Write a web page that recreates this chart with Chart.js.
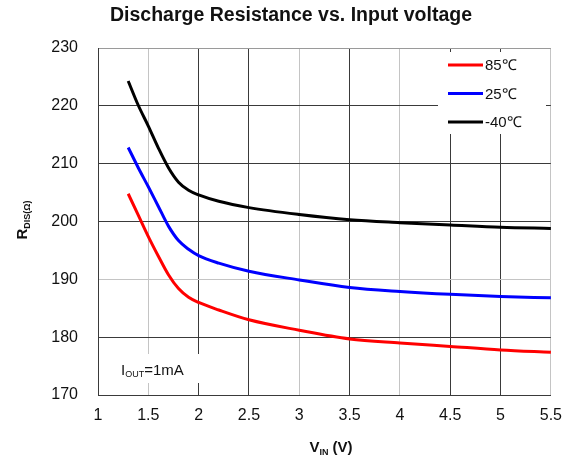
<!DOCTYPE html>
<html lang="en">
<head>
<meta charset="UTF-8">
<title>Discharge Resistance vs. Input voltage</title>
<script src="https://cdn.jsdelivr.net/npm/chart.js"></script>
<style>
  body { margin: 0; background: #fff; }
  #chart-wrap { width: 573px; height: 461px; }
</style>
</head>
<body>
<div id="chart-wrap"><canvas id="rdis-chart" width="573" height="461"></canvas></div>
<script>
// values
const vin  = [1.3, 1.4, 1.5, 1.6, 1.7, 1.8, 1.9, 2.0, 2.2, 2.5, 3.0, 3.5, 4.0, 4.5, 5.0, 5.5];
const r85  = [204.8, 201.1, 197.4, 194.0, 190.8, 188.4, 186.9, 186.0, 184.7, 183.0, 181.2, 179.7, 179.0, 178.4, 177.8, 177.4];
const r25  = [212.8, 209.3, 206.0, 202.6, 199.2, 196.7, 195.2, 194.1, 192.8, 191.4, 189.9, 188.6, 187.9, 187.4, 187.05, 186.8];
const rm40 = [224.3, 220.1, 216.5, 212.7, 209.3, 206.8, 205.4, 204.6, 203.5, 202.4, 201.2, 200.3, 199.8, 199.4, 199.0, 198.8];

const seriesLabels = ['85℃', '25℃', '-40℃'];
const seriesColors = ['#ff0000', '#0000ff', '#000000'];
const seriesValues = [r85, r25, rm40];

const chartTitle = 'Discharge Resistance vs. Input voltage';
const xRange = { min: 1, max: 5.5, step: 0.5 };
const yRange = { min: 170, max: 230, step: 10 };
const lightX = [1.5, 3, 4, 5.5];   // the pale vertical grid lines
const lightY = [190];

const FONT = '"Liberation Sans", Arial, sans-serif';
Chart.defaults.font.family = FONT;
Chart.defaults.color = '#111';

// draw a run of text pieces (with subscripts) starting at x
function drawRun(ctx, parts, x, y, align) {
    let total = 0;
    parts.forEach(p => { ctx.font = p.font; total += ctx.measureText(p.t).width; });
    let cx = align === 'center' ? x - total / 2 : x;
    parts.forEach(p => {
        ctx.font = p.font;
        ctx.fillText(p.t, cx, y + (p.dy || 0));
        cx += ctx.measureText(p.t).width;
    });
}

const decorPlugin = {
    id: 'decor',
    beforeDatasetsDraw(chart) {
        const ctx = chart.ctx;
        ctx.save();
        ctx.fillStyle = '#fff';
        // legend box and note box hide the grid
        ctx.fillRect(438, 52, 108, 82);
        ctx.fillRect(112, 354, 93, 29);
        ctx.restore();
    },
    afterDraw(chart) {
        const ctx = chart.ctx;
        ctx.save();
        ctx.fillStyle = '#111';

        // title, sits a bit right of the plot centre like the original
        ctx.font = 'bold 19.5px ' + FONT;
        ctx.textAlign = 'center';
        ctx.textBaseline = 'middle';
        ctx.fillText(chartTitle, 291, 16);
        ctx.textAlign = 'left';

        // legend
        chart.data.datasets.forEach((ds, i) => {
            const y = 65 + i * 28.5;
            ctx.strokeStyle = ds.borderColor;
            ctx.lineWidth = 3;
            ctx.beginPath();
            ctx.moveTo(448, y);
            ctx.lineTo(483, y);
            ctx.stroke();
            ctx.font = '15px ' + FONT;
            ctx.textBaseline = 'middle';
            ctx.fillText(ds.label, 485, y + 1);
        });

        // note
        ctx.textBaseline = 'alphabetic';
        drawRun(ctx, [
            { t: 'I', font: '15px ' + FONT },
            { t: 'OUT', font: '9px ' + FONT, dy: 2 },
            { t: '=1mA', font: '15px ' + FONT }
        ], 121, 375, 'left');

        // x axis title
        drawRun(ctx, [
            { t: 'V', font: 'bold 15px ' + FONT },
            { t: 'IN', font: 'bold 9px ' + FONT, dy: 3 },
            { t: ' (V)', font: 'bold 15px ' + FONT }
        ], 331, 452, 'center');

        // y axis title, rotated
        ctx.translate(27, 220);
        ctx.rotate(-Math.PI / 2);
        drawRun(ctx, [
            { t: 'R', font: 'bold 15px ' + FONT },
            { t: 'DIS(Ω)', font: 'bold 9px ' + FONT, dy: 3 }
        ], 0, 0, 'center');
        ctx.restore();
    }
};

const ctx = document.getElementById('rdis-chart').getContext('2d');

new Chart(ctx, {
    type: 'line',
    data: {
        datasets: seriesValues.map((vals, i) => ({
            label: seriesLabels[i],
            data: vals.map((v, j) => ({ x: vin[j], y: v })),
            borderColor: seriesColors[i],
            backgroundColor: seriesColors[i],
            borderWidth: 3,
            pointRadius: 0,
            cubicInterpolationMode: 'monotone',
            fill: false
        }))
    },
    options: {
        responsive: false,
        animation: false,
        layout: { padding: { left: 0, right: 22, top: 48, bottom: 0 } },
        plugins: {
            legend: { display: false },
            tooltip: { enabled: false },
            title: { display: false }
        },
        scales: {
            x: {
                type: 'linear',
                min: xRange.min,
                max: xRange.max,
                ticks: {
                    stepSize: xRange.step, padding: 11, font: { size: 16 }, maxRotation: 0,
                    callback: v => String(v)
                },
                grid: {
                    drawTicks: false,
                    color: c => lightX.includes(c.tick.value) ? '#c4c4c4' : '#3a3a3a'
                },
                border: { color: '#3a3a3a' },
                afterFit: s => { s.height = 66; }
            },
            y: {
                min: yRange.min,
                max: yRange.max,
                ticks: { stepSize: yRange.step, padding: 20, font: { size: 16 } },
                grid: {
                    drawTicks: false,
                    color: c => c.tick.value === yRange.max ? '#9a9a9a' :
                        (lightY.includes(c.tick.value) ? '#c4c4c4' : '#3a3a3a')
                },
                border: { color: '#3a3a3a' },
                afterFit: s => { s.width = 98; }
            }
        }
    },
    plugins: [decorPlugin]
});
</script>
</body>
</html>
